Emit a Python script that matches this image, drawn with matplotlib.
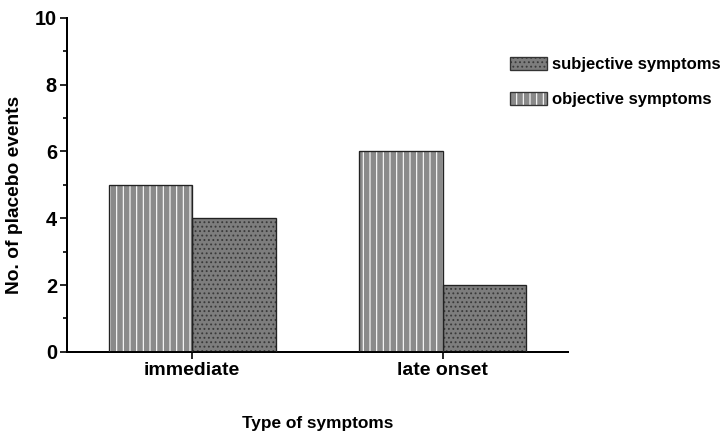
import matplotlib
matplotlib.use("Agg")
import matplotlib.pyplot as plt
from matplotlib.patches import Patch
from matplotlib.legend_handler import HandlerTuple
import numpy as np

categories = ["immediate", "late onset"]
objective = [5, 6]
subjective = [4, 2]
y_ticks = [0, 2, 4, 6, 8, 10]

plt.rcParams["font.family"] = ["Liberation Sans", "DejaVu Sans"]
plt.rcParams["font.weight"] = "bold"
plt.rcParams["hatch.linewidth"] = 1.0

STRIPE_FACE = "#8a8a8a"
DOT_FACE = "#7d7d7d"

fig = plt.figure(figsize=(9.1, 5.45), dpi=80)
ax = fig.add_axes([0.092, 0.193, 0.688, 0.766])

x = np.arange(len(categories))
w = 1 / 3

# striped bars: white vertical hatch, then a black outline on top
with plt.rc_context({"hatch.color": "white"}):
    ax.bar(x - w / 2, objective, w, color=STRIPE_FACE, edgecolor=None,
           linewidth=0, hatch="||", zorder=2)
ax.bar(x - w / 2, objective, w, fill=False, edgecolor="#222222",
       linewidth=1.2, zorder=3)

# dotted bars: dark dot hatch, then outline
with plt.rc_context({"hatch.color": "#3a3a3a"}):
    ax.bar(x + w / 2, subjective, w, color=DOT_FACE, edgecolor=None,
           linewidth=0, hatch="...", zorder=2)
ax.bar(x + w / 2, subjective, w, fill=False, edgecolor="#222222",
       linewidth=1.2, zorder=3)

ax.set_xlim(-0.5, 1.5)
ax.set_ylim(0, 10)
ax.set_xticks(x)
ax.set_xticklabels(categories, fontsize=17.5, fontweight="bold")
ax.set_yticks(y_ticks)
ax.set_yticklabels([str(t) for t in y_ticks], fontsize=18, fontweight="bold")
ax.set_yticks(np.arange(1, 10, 2), minor=True)
ax.tick_params(axis="both", which="major", direction="out", length=6,
               width=1.5, color="black", pad=3)
ax.tick_params(axis="y", which="minor", direction="out", length=4, width=1.5)

for side in ("top", "right"):
    ax.spines[side].set_visible(False)
for side in ("left", "bottom"):
    ax.spines[side].set_linewidth(1.8)

ax.set_xlabel("Type of symptoms", fontsize=15.5, fontweight="bold", labelpad=33)
ax.set_ylabel("No. of placebo events", fontsize=17.2, fontweight="bold")
ax.yaxis.set_label_coords(-0.088, 0.47)

# legend swatches built from the same styles as the bars
with plt.rc_context({"hatch.color": "#3a3a3a"}):
    h_dot = Patch(facecolor=DOT_FACE, edgecolor=None, linewidth=0, hatch="...")
with plt.rc_context({"hatch.color": "white"}):
    h_str = Patch(facecolor=STRIPE_FACE, edgecolor=None, linewidth=0, hatch="||")
h_edge1 = Patch(fill=False, edgecolor="#333333", linewidth=1.2)
h_edge2 = Patch(fill=False, edgecolor="#333333", linewidth=1.2)

fig.legend([(h_dot, h_edge1), (h_str, h_edge2)],
           ["subjective symptoms", "objective symptoms"],
           handler_map={tuple: HandlerTuple(ndivide=1, pad=0)},
           loc="upper left", bbox_to_anchor=(0.692, 0.885), frameon=False,
           prop={"size": 15, "weight": "bold"}, handlelength=2.2,
           handleheight=0.8, handletextpad=0.3, labelspacing=1.2,
           borderaxespad=0)

fig.savefig("out.png", dpi=80)
